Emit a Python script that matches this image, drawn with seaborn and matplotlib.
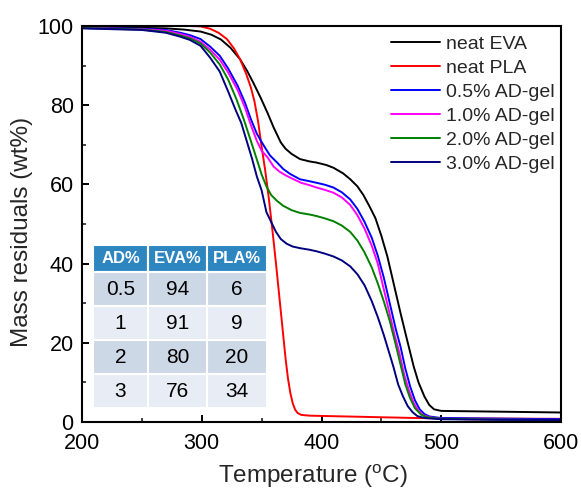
import numpy as np
import pandas as pd
import matplotlib
matplotlib.use("Agg")
import matplotlib.pyplot as plt
import seaborn as sns

# ---------------- data ----------------
eva_T = [200, 240, 270, 285, 299, 308, 316, 324, 332, 338, 343, 349, 355, 360, 366, 370, 375, 382,
         390, 396, 404, 410, 418, 424, 430, 435, 440, 445, 450, 455, 460, 466, 471, 477, 481, 486,
         490, 494, 500, 550, 600]
eva_W = [99.7, 99.6, 99.4, 99.1, 98.6, 97.8, 96.6, 94.5, 91.6, 88.6, 85.7, 82, 78, 74.4, 70.6, 69.0,
         67.7, 66.4, 65.8, 65.5, 64.9, 64.2, 62.8, 61.3, 59.5, 57.3, 54.5, 51.5, 47, 41.8, 35.3,
         27.5, 21.3, 14, 10, 6.4, 4.3, 3.2, 2.8, 2.6, 2.4]

pla_T = [200, 250, 280, 290, 299, 307, 314, 321, 327, 332, 337, 341, 344, 347, 350, 353, 356, 359,
         362, 365, 368, 370, 372, 374, 376, 378, 380, 383, 390, 420, 450, 480, 520, 600]
pla_W = [100, 100, 100, 100, 99.9, 99.3, 98.3, 96.7, 94.3, 91.6, 88, 84.5, 81, 76, 69.5, 63.5,
         56.5, 48.5, 40, 31, 22, 16, 11, 7.3, 4.7, 3.1, 2.3, 1.8, 1.6, 1.4, 1.2, 1.0, 0.9, 0.8]

ad05_T = [200, 250, 270, 282, 290, 299, 307, 315, 322, 330, 336, 341, 346, 352, 357, 363, 368, 374,
          382, 390, 396, 403, 410, 417, 424, 430, 436, 442, 447, 452, 457, 462, 466, 470, 474, 478,
          482, 486, 490, 500, 550, 600]
ad05_W = [99.5, 99.3, 99.0, 98.3, 97.7, 96.7, 94.8, 92.5, 89.3, 84.9, 80.7, 76.5, 72.8, 69.7, 67.3,
          65.5, 63.9, 62.6, 61.3, 60.8, 60.4, 59.9, 59.2, 58, 56.2, 53.8, 50.5, 46.5, 42, 36.5, 30,
          23.5, 19, 13.5, 9, 5.5, 3.2, 2, 1.4, 1.0, 0.85, 0.7]

ad10_T = [200, 250, 270, 282, 290, 299, 307, 315, 322, 330, 336, 341, 346, 350, 355, 360, 365, 370,
          376, 383, 390, 396, 403, 410, 417, 424, 430, 436, 442, 447, 451, 456, 461, 465, 469, 473,
          477, 481, 485, 490, 500, 550, 600]
ad10_W = [99.5, 99.2, 98.8, 98.0, 97.3, 96.0, 94.0, 91.5, 88.3, 83.8, 79.5, 75, 71, 68.5, 66.8,
          64.5, 63.2, 62.3, 61.4, 60.4, 59.8, 59.2, 58.6, 57.9, 56.7, 54.8, 52.2, 48.8, 44.5, 40,
          34.8, 28.5, 22, 17.5, 12, 8, 4.8, 2.8, 1.7, 1.2, 0.8, 0.6, 0.5]

ad20_T = [200, 250, 270, 282, 290, 299, 307, 315, 322, 329, 335, 341, 346, 350, 354, 358, 363, 368,
          375, 382, 390, 396, 403, 410, 417, 424, 430, 436, 442, 447, 452, 457, 462, 466, 470, 474,
          478, 483, 488, 500, 550, 600]
ad20_W = [99.5, 99.1, 98.5, 97.6, 96.9, 95.6, 93.3, 90.3, 86.5, 81.5, 76.5, 71, 66.3, 62.5, 59.5,
          57.3, 55.8, 54.6, 53.5, 52.8, 52.4, 52, 51.4, 50.7, 49.6, 48, 45.8, 42.8, 39, 35, 30.5,
          25.5, 19.5, 14.5, 9.5, 6, 3.5, 1.9, 1.2, 0.8, 0.6, 0.5]

ad30_T = [200, 250, 270, 282, 290, 299, 307, 315, 322, 328, 333, 338, 342, 346, 350, 354, 358, 362,
          366, 371, 376, 382, 390, 396, 403, 410, 417, 424, 430, 436, 442, 447, 452, 456, 460, 464,
          468, 472, 476, 480, 486, 500, 550, 600]
ad30_W = [99.4, 99.0, 98.3, 97.3, 96.5, 95, 92, 88.5, 83.5, 79, 75.5, 70.5, 66.5, 62, 58.5, 53,
          50.5, 48, 46.2, 45, 44.3, 43.9, 43.5, 43.1, 42.5, 41.8, 40.8, 39.3, 37.3, 34.5, 30.5,
          26.5, 22, 18, 14, 9.5, 6.5, 4, 2.5, 1.5, 1.0, 0.7, 0.55, 0.5]

series_names = ["neat EVA", "neat PLA", "0.5% AD-gel", "1.0% AD-gel", "2.0% AD-gel", "3.0% AD-gel"]
series_T = [eva_T, pla_T, ad05_T, ad10_T, ad20_T, ad30_T]
series_W = [eva_W, pla_W, ad05_W, ad10_W, ad20_W, ad30_W]
series_colors = ["#000000", "#FF0000", "#0000FF", "#FF00FF", "#008000", "#000080"]

table_header = ["AD%", "EVA%", "PLA%"]
table_ad = ["0.5", "1", "2", "3"]
table_eva = ["94", "91", "80", "76"]
table_pla = ["6", "9", "20", "34"]

x_ticks = [200, 300, 400, 500, 600]
y_ticks = [0, 20, 40, 60, 80, 100]

# ---------------- build frame ----------------
frames = []
for name, T, W in zip(series_names, series_T, series_W):
    frames.append(pd.DataFrame({"T": T, "W": W, "sample": name}))
df = pd.concat(frames, ignore_index=True)

sns.set_theme(style="white")
plt.rcParams["font.family"] = ["Liberation Sans", "DejaVu Sans"]
plt.rcParams["mathtext.fontset"] = "custom"
plt.rcParams["mathtext.rm"] = "Liberation Sans"
plt.rcParams["mathtext.it"] = "Liberation Sans:italic"

fig = plt.figure(figsize=(5.81, 4.90), dpi=100)
ax = fig.add_axes([82 / 581, 1 - 422 / 490, (561 - 82) / 581, (422 - 26) / 490])

sns.lineplot(data=df, x="T", y="W", hue="sample", hue_order=series_names,
             palette=dict(zip(series_names, series_colors)), estimator=None, sort=True,
             linewidth=1.4, ax=ax)

ax.set_xlim(200, 600)
ax.set_ylim(0, 100)
ax.set_xticks(x_ticks)
ax.set_yticks(y_ticks)
ax.set_xticks(np.arange(250, 600, 100), minor=True)
ax.set_yticks(np.arange(10, 100, 20), minor=True)
ax.tick_params(axis="both", which="major", direction="in", length=5, width=1.4,
               labelsize=15.5, colors="black", bottom=True, left=True, top=False, right=False)
ax.tick_params(axis="both", which="minor", direction="in", length=3, width=1.2,
               bottom=True, left=True, top=False, right=False)
ax.tick_params(axis="y", which="major", pad=6)
ax.tick_params(axis="x", which="major", pad=8)
for s in ax.spines.values():
    s.set_linewidth(1.5)
    s.set_color("black")

ax.set_xlabel("Temperature ($^{\\mathrm{o}}$C)", fontsize=17.5)
ax.set_ylabel("Mass residuals (wt%)", fontsize=17.5)
ax.xaxis.set_label_coords(0.482, -0.137)
ax.xaxis.label.set_va("center")
ax.yaxis.set_label_coords(-0.125, 0.48)
ax.yaxis.label.set_va("center")
ax.yaxis.label.set_ha("center")

handles, labels = ax.get_legend_handles_labels()
ax.legend(handles, labels, loc="upper left", bbox_to_anchor=(0.645, 0.977), frameon=False,
          fontsize=14, handlelength=2.5, handletextpad=0.35, labelspacing=0.33,
          borderpad=0, borderaxespad=0)

# ---------------- inset table ----------------
cell_text = [[a, e, p] for a, e, p in zip(table_ad, table_eva, table_pla)]
tbl = ax.table(cellText=cell_text, colLabels=table_header, cellLoc="center",
               colWidths=[55, 59, 60], bbox=[0.023, 0.035, 0.363, 0.412], zorder=5)
tbl.auto_set_font_size(False)
header_color = "#2E86C1"
row_colors = ["#CDD8E7", "#E7ECF5"]
for (r, c), cell in tbl.get_celld().items():
    cell.set_edgecolor("white")
    cell.set_linewidth(1.5)
    if r == 0:
        cell.set_height(27)
        cell.set_facecolor(header_color)
        cell.get_text().set_color("white")
        cell.get_text().set_fontweight("bold")
        cell.get_text().set_fontsize(12)
    else:
        cell.set_height(34)
        cell.set_facecolor(row_colors[(r - 1) % 2])
        cell.get_text().set_color("black")
        cell.get_text().set_fontsize(15)

fig.savefig("out.png", dpi=100)
